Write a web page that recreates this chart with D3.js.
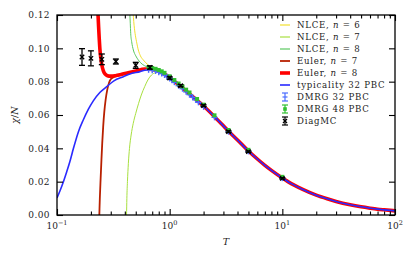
<!DOCTYPE html>
<html>
<head>
<meta charset="utf-8">
<script src="https://cdn.jsdelivr.net/npm/d3@7"></script>
<style>
  body { margin: 0; background: #fff; }
  svg text { font-family: "DejaVu Serif", serif; fill: #222; }
</style>
</head>
<body>
<svg id="chart" width="415" height="258"></svg>
<script>
// shared high-T tail (all curves coincide here)
tailT   = [0.8, 0.9, 1.0, 1.1, 1.25, 1.5, 1.75, 2, 2.5, 3, 3.33, 4, 5, 6, 7, 8, 10, 12, 15, 20, 25, 30, 40, 50, 60, 70, 80, 100];
tailChi = [0.0862, 0.0845, 0.0824, 0.0802, 0.0772, 0.0727, 0.0688, 0.0654, 0.0590, 0.0535, 0.0503, 0.0450, 0.0384, 0.0336, 0.0298, 0.0268, 0.0222, 0.0188, 0.0155, 0.0119, 0.0097, 0.0081, 0.0061, 0.0049, 0.0041, 0.0035, 0.0031, 0.0025];

nlce6T   = [0.474, 0.48, 0.493, 0.508, 0.527, 0.55, 0.584, 0.646, 0.7];
nlce6Chi = [0.121, 0.116, 0.109, 0.104, 0.099, 0.0955, 0.093, 0.090, 0.0885];
nlce7T   = [0.414, 0.417, 0.422, 0.43, 0.44, 0.455, 0.475, 0.5, 0.53, 0.56, 0.6, 0.64, 0.69, 0.75];
nlce7Chi = [-0.001, 0.010, 0.020, 0.031, 0.040, 0.048, 0.055, 0.061, 0.067, 0.072, 0.077, 0.081, 0.084, 0.0855];
nlce8T   = [0.443, 0.447, 0.451, 0.46, 0.476, 0.5, 0.527, 0.57, 0.624, 0.7];
nlce8Chi = [0.121, 0.115, 0.109, 0.104, 0.099, 0.0955, 0.093, 0.0905, 0.089, 0.0878];
euler7T   = [0.237, 0.2375, 0.24, 0.244, 0.248, 0.252, 0.257, 0.263, 0.27, 0.28, 0.29, 0.3, 0.32, 0.35, 0.4, 0.5, 0.6, 0.7];
euler7Chi = [-0.002, 0.0, 0.010, 0.022, 0.033, 0.043, 0.053, 0.062, 0.069, 0.0755, 0.0795, 0.0815, 0.0828, 0.0836, 0.0846, 0.0864, 0.0876, 0.0874];
euler8T   = [0.231, 0.234, 0.237, 0.24, 0.245, 0.25, 0.258, 0.268, 0.28, 0.3, 0.33, 0.37, 0.42, 0.5, 0.6, 0.7];
euler8Chi = [0.121, 0.113, 0.106, 0.100, 0.094, 0.090, 0.0865, 0.0845, 0.0836, 0.0833, 0.0836, 0.0843, 0.0852, 0.0864, 0.0876, 0.0874];
typT   = [0.1, 0.107, 0.114, 0.122, 0.13, 0.14, 0.155, 0.171, 0.19, 0.21, 0.24, 0.276, 0.32, 0.388, 0.45, 0.545, 0.6, 0.65, 0.7];
typChi = [0.0102, 0.015, 0.020, 0.026, 0.032, 0.040, 0.050, 0.057, 0.0635, 0.0685, 0.0735, 0.077, 0.0805, 0.083, 0.0848, 0.086, 0.0868, 0.0872, 0.0872];

dmrg32T   = [0.65, 0.7, 0.75, 0.8, 0.85, 0.9, 0.95, 1.0, 1.05, 1.1, 1.2, 1.3, 1.4, 1.5, 1.6, 1.7, 1.8, 2.0, 2.5, 3.33, 5, 10];
dmrg32Chi = [0.0871, 0.0869, 0.0864, 0.0857, 0.0849, 0.0840, 0.0830, 0.0819, 0.0808, 0.0797, 0.0776, 0.0758, 0.0739, 0.0722, 0.0706, 0.0691, 0.0676, 0.0649, 0.0586, 0.0500, 0.0382, 0.0221];
dmrg48T   = [0.65, 0.7, 0.75, 0.8, 0.85, 0.9, 1.0, 1.1, 1.2, 1.3, 1.4, 1.5, 1.75, 2.0, 2.5, 3.33, 5, 10];
dmrg48Chi = [0.0886, 0.0882, 0.0877, 0.0870, 0.0862, 0.0853, 0.0832, 0.0810, 0.0789, 0.0771, 0.0752, 0.0735, 0.0696, 0.0662, 0.0598, 0.0510, 0.0391, 0.0229];
diagT   = [0.1667, 0.2, 0.25, 0.333, 0.5, 0.667, 1, 1.25, 2, 3.33, 5, 10];
diagChi = [0.0948, 0.094, 0.0934, 0.0921, 0.0898, 0.0885, 0.0822, 0.0776, 0.0656, 0.050, 0.038, 0.022];
diagErr = [0.005, 0.0045, 0.0032, 0.0015, 0.0018, 0.001, 0.0007, 0.0006, 0.0005, 0.0005, 0.0004, 0.0004];

yTicks = [0, 0.02, 0.04, 0.06, 0.08, 0.10, 0.12];
xTicks = [0.1, 1, 10, 100];
xExps  = ['\u22121', '0', '1', '2'];

legendNames = ['NLCE, ', 'NLCE, ', 'NLCE, ', 'Euler, ', 'Euler, ', 'typicality 32 PBC', 'DMRG 32 PBC', 'DMRG 48 PBC', 'DiagMC'];
legendN = ['6', '7', '8', '7', '8', null, null, null, null];

var svg = d3.select('#chart');
var x = d3.scaleLog().domain([0.1, 100]).range([57, 395]);
var y = d3.scaleLinear().domain([0, 0.12]).range([215, 15]);

svg.append('clipPath').attr('id', 'clip')
  .append('rect').attr('x', 57).attr('y', 15).attr('width', 338).attr('height', 200);

function pairs(t, v) { return t.map(function(d, i) { return [d, v[i]]; }); }
function withTail(t, v) {
  var p = pairs(t, v);
  var last = t[t.length - 1];
  pairs(tailT, tailChi).forEach(function(d) { if (d[0] > last) p.push(d); });
  return p;
}

var line = d3.line().x(function(d) { return x(d[0]); }).y(function(d) { return y(d[1]); })
  .curve(d3.curveMonotoneX);

var curves = [
  { data: withTail(nlce6T, nlce6Chi), color: '#f2e030', w: 1 },
  { data: withTail(nlce7T, nlce7Chi), color: '#a8e040', w: 1 },
  { data: withTail(nlce8T, nlce8Chi), color: '#5cc860', w: 1 },
  { data: withTail(euler7T, euler7Chi), color: '#b82000', w: 1.8 },
  { data: withTail(euler8T, euler8Chi), color: '#ff0000', w: 3.6 },
  { data: withTail(typT, typChi), color: '#2a2aff', w: 1.6 }
];

var plot = svg.append('g').attr('clip-path', 'url(#clip)');
curves.forEach(function(c) {
  plot.append('path').attr('d', line(c.data))
    .attr('fill', 'none').attr('stroke', c.color).attr('stroke-width', c.w);
});

// DMRG 32 (blue, '+' marker)
var g32 = plot.append('g').attr('stroke', '#4a6cff').attr('stroke-width', 1.4);
pairs(dmrg32T, dmrg32Chi).forEach(function(d) {
  var cx = x(d[0]), cy = y(d[1]);
  g32.append('line').attr('x1', cx - 3).attr('x2', cx + 3).attr('y1', cy).attr('y2', cy);
  g32.append('line').attr('x1', cx).attr('x2', cx).attr('y1', cy - 3).attr('y2', cy + 3);
});

// DMRG 48 (green squares)
plot.append('g').selectAll('rect').data(pairs(dmrg48T, dmrg48Chi)).join('rect')
  .attr('x', function(d) { return x(d[0]) - 2; })
  .attr('y', function(d) { return y(d[1]) - 2; })
  .attr('width', 4).attr('height', 4).attr('fill', '#30c030');

// DiagMC (black x with error bars)
var gd = plot.append('g').attr('stroke', '#000').attr('stroke-width', 1.3);
diagT.forEach(function(t, i) {
  var cx = x(t), cy = y(diagChi[i]);
  var top = y(diagChi[i] + diagErr[i]), bot = y(diagChi[i] - diagErr[i]);
  gd.append('line').attr('x1', cx).attr('x2', cx).attr('y1', top).attr('y2', bot);
  gd.append('line').attr('x1', cx - 3).attr('x2', cx + 3).attr('y1', top).attr('y2', top);
  gd.append('line').attr('x1', cx - 3).attr('x2', cx + 3).attr('y1', bot).attr('y2', bot);
  gd.append('line').attr('x1', cx - 2.2).attr('x2', cx + 2.2).attr('y1', cy - 2.2).attr('y2', cy + 2.2);
  gd.append('line').attr('x1', cx - 2.2).attr('x2', cx + 2.2).attr('y1', cy + 2.2).attr('y2', cy - 2.2);
});

// axes: ticks pointing inward on all four sides
var minor = [];
[0.1, 1, 10].forEach(function(b) { for (var k = 2; k <= 9; k++) minor.push(b * k); });

function styleAxis(g) {
  g.select('.domain').remove();
  g.selectAll('.tick line').attr('stroke', '#000').attr('stroke-width', 1.1);
  g.selectAll('.tick text').remove();
}
svg.append('g').attr('transform', 'translate(0,215)').call(d3.axisBottom(x).tickValues(xTicks).tickSize(-6)).call(styleAxis);
svg.append('g').attr('transform', 'translate(0,215)').call(d3.axisBottom(x).tickValues(minor).tickSize(-3.5)).call(styleAxis);
svg.append('g').attr('transform', 'translate(0,15)').call(d3.axisTop(x).tickValues(xTicks).tickSize(-6)).call(styleAxis);
svg.append('g').attr('transform', 'translate(0,15)').call(d3.axisTop(x).tickValues(minor).tickSize(-3.5)).call(styleAxis);
svg.append('g').attr('transform', 'translate(57,0)').call(d3.axisLeft(y).tickValues(yTicks).tickSize(-6)).call(styleAxis);
svg.append('g').attr('transform', 'translate(395,0)').call(d3.axisRight(y).tickValues(yTicks).tickSize(-6)).call(styleAxis);

svg.append('rect').attr('x', 57).attr('y', 15).attr('width', 338).attr('height', 200)
  .attr('fill', 'none').attr('stroke', '#000').attr('stroke-width', 1.3);

// tick labels
svg.append('g').selectAll('text').data(yTicks).join('text')
  .attr('x', 50).attr('y', function(d) { return y(d) + 3.3; })
  .attr('text-anchor', 'end').attr('font-size', 9).attr('letter-spacing', 0.4)
  .text(function(d) { return d.toFixed(2); });

xTicks.forEach(function(t, i) {
  var tx = svg.append('text').attr('x', x(t)).attr('y', 228.5)
    .attr('text-anchor', 'middle').attr('font-size', 9);
  tx.append('tspan').text('10');
  tx.append('tspan').attr('font-size', 6.5).attr('dy', -4).text(xExps[i]);
});

svg.append('text').attr('x', 226).attr('y', 245).attr('text-anchor', 'middle')
  .attr('font-size', 9.5).attr('font-style', 'italic').text('T');
svg.append('text').attr('transform', 'translate(18,115) rotate(-90)').attr('text-anchor', 'middle')
  .attr('font-size', 9.5).html('<tspan font-style="italic">\u03c7</tspan>/<tspan font-style="italic">N</tspan>');

// legend
var leg = svg.append('g');
legendNames.forEach(function(name, i) {
  var ly = 25 + i * 12;
  var hx = 285;
  if (i < 6) {
    leg.append('line').attr('x1', hx - 5).attr('x2', hx + 5).attr('y1', ly).attr('y2', ly)
      .attr('stroke', curves[i].color).attr('stroke-width', Math.max(curves[i].w, 1.2));
  } else {
    var col = ['#4a6cff', '#30c030', '#000'][i - 6];
    var lg = leg.append('g').attr('stroke', col).attr('stroke-width', 1.2);
    lg.append('line').attr('x1', hx).attr('x2', hx).attr('y1', ly - 4).attr('y2', ly + 4);
    lg.append('line').attr('x1', hx - 3).attr('x2', hx + 3).attr('y1', ly - 4).attr('y2', ly - 4);
    lg.append('line').attr('x1', hx - 3).attr('x2', hx + 3).attr('y1', ly + 4).attr('y2', ly + 4);
    if (i == 6) lg.append('line').attr('x1', hx - 2.5).attr('x2', hx + 2.5).attr('y1', ly).attr('y2', ly);
    if (i == 7) lg.append('rect').attr('x', hx - 1.8).attr('y', ly - 1.8).attr('width', 3.6).attr('height', 3.6)
      .attr('fill', col).attr('stroke', 'none');
    if (i == 8) {
      lg.append('line').attr('x1', hx - 2).attr('x2', hx + 2).attr('y1', ly - 2).attr('y2', ly + 2);
      lg.append('line').attr('x1', hx - 2).attr('x2', hx + 2).attr('y1', ly + 2).attr('y2', ly - 2);
    }
  }
  var tx = leg.append('text').attr('x', 297).attr('y', ly + 3.2).attr('font-size', 8.6).attr('letter-spacing', 0.75);
  tx.append('tspan').text(name);
  if (legendN[i]) {
    tx.append('tspan').attr('font-style', 'italic').text('n');
    tx.append('tspan').text(' = ' + legendN[i]);
  }
});
</script>
</body>
</html>
